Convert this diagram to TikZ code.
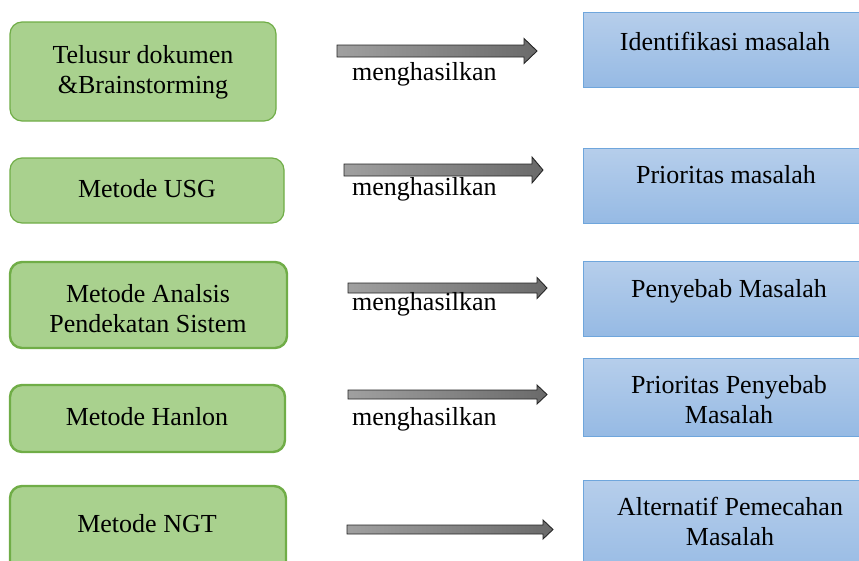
\documentclass[tikz,border=0pt]{standalone}
\usepackage{fontspec}
\setmainfont{Liberation Serif}
\definecolor{gfill}{HTML}{A9D18E}
\definecolor{gline}{HTML}{70AD47}
\definecolor{btop}{HTML}{B6CEEB}
\definecolor{bbot}{HTML}{96BAE4}
\definecolor{bline}{HTML}{6FA6DC}
\definecolor{aleft}{HTML}{A0A0A0}
\definecolor{aright}{HTML}{6A6A6A}
\definecolor{aline}{HTML}{262626}
\newcommand{\blockarr}[6]{%
  \draw[arrowbox] (#1,#4-#5) -- (#2,#4-#5) -- (#2,#4-#6) -- (#3,#4) -- (#2,#4+#6) -- (#2,#4+#5) -- (#1,#4+#5) -- cycle;}
\begin{document}
\begin{tikzpicture}[x=1pt,y=-1pt,
  txt/.style={font=\fontsize{26}{30}\selectfont, inner sep=0pt, anchor=base},
  gbox/.style={draw=gline, fill=gfill, rounded corners=12pt, line width=1.2pt},
  gboxthick/.style={gbox, line width=2.4pt},
  bbox/.style={draw=bline, top color=btop, bottom color=bbot, line width=1pt},
  arrowbox/.style={draw=aline, line width=0.9pt, left color=aleft, right color=aright},
  lbl/.style={font=\fontsize{26}{30}\selectfont, inner sep=0pt, anchor=base west}]
\useasboundingbox (0,0) rectangle (859,560);
\clip (0,0) rectangle (859,560);
% green boxes
\draw[gbox] (10,22) rectangle (276,121) coordinate (g1);
\draw[gbox] (10,158) rectangle (284,223) coordinate (g2);
\draw[gboxthick] (10,262) rectangle (287,348) coordinate (g3);
\draw[gboxthick] (10,385) rectangle (285,452) coordinate (g4);
\draw[gboxthick] (10,486) rectangle (286,575) coordinate (g5);
\node[txt] (g1a) at (143,63) {Telusur dokumen};
\node[txt] (g1b) at (143,93) {\&Brainstorming};
\node[txt] (g2a) at (147,197) {Metode USG};
\node[txt] (g3a) at (148,302) {Metode Analsis};
\node[txt] (g3b) at (148,332) {Pendekatan Sistem};
\node[txt] (g4a) at (147,425) {Metode Hanlon};
\node[txt] (g5a) at (147,532) {Metode NGT};
% blue boxes
\draw[bbox] (583,12) rectangle (880,87);
\draw[bbox] (583,148) rectangle (880,223);
\draw[bbox] (583,261) rectangle (880,336);
\draw[bbox] (583,358) rectangle (880,436);
\draw[bbox] (583,480) rectangle (880,580);
\node[txt] (b1a) at (725,50) {Identifikasi masalah};
\node[txt] (b2a) at (726,183) {Prioritas masalah};
\node[txt] (b3a) at (729,297) {Penyebab Masalah};
\node[txt] (b4a) at (729,393) {Prioritas Penyebab};
\node[txt] (b4b) at (729,423) {Masalah};
\node[txt] (b5a) at (730,515) {Alternatif Pemecahan};
\node[txt] (b5b) at (730,545) {Masalah};
% arrows
\blockarr{337}{524}{537}{51}{6}{12.5}
\blockarr{344}{532}{543}{170}{6}{13}
\blockarr{348}{537}{547}{288}{5}{10.5}
\blockarr{348}{537}{547}{394.5}{4.5}{9.5}
\blockarr{347}{543}{553}{529.5}{4.5}{9.5}
% labels
\node[lbl] (l1) at (352,80) {menghasilkan};
\node[lbl] (l2) at (352,195) {menghasilkan};
\node[lbl] (l3) at (352,310) {menghasilkan};
\node[lbl] (l4) at (352,425) {menghasilkan};
\end{tikzpicture}
\end{document}
